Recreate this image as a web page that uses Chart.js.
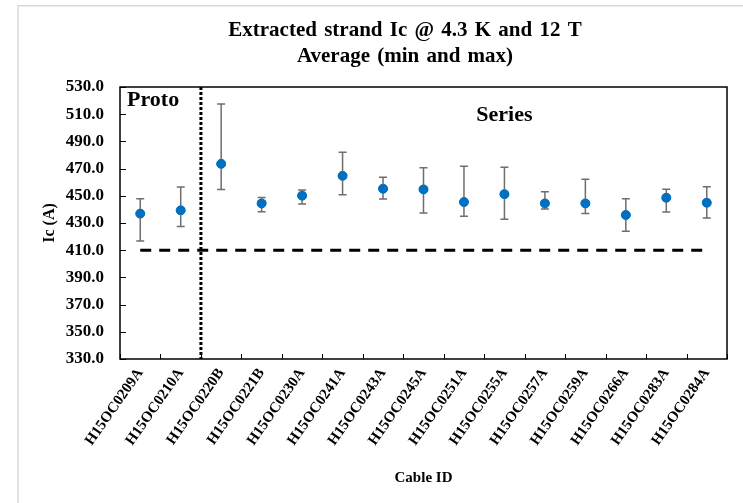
<!DOCTYPE html>
<html>
<head>
<meta charset="utf-8">
<script src="https://cdn.jsdelivr.net/npm/chart.js@4.4.1/dist/chart.umd.min.js"></script>
<style>
  html, body { margin: 0; padding: 0; background: #fff; }
  #chart { display: block; }
</style>
</head>
<body>
<canvas id="chart" width="743" height="503"></canvas>
<script>
// Cable IDs on the x axis
const cableIds = [
  'H15OC0209A', 'H15OC0210A', 'H15OC0220B', 'H15OC0221B', 'H15OC0230A',
  'H15OC0241A', 'H15OC0243A', 'H15OC0245A', 'H15OC0251A', 'H15OC0255A',
  'H15OC0257A', 'H15OC0259A', 'H15OC0266A', 'H15OC0283A', 'H15OC0284A'
];

// Average Ic (A) with min / max
const icAverage = [436.9, 439.3, 473.5, 444.4, 450.1, 464.7, 455.2, 454.7, 445.4, 451.2, 444.4, 444.4, 435.9, 448.6, 444.9];
const icMin     = [416.8, 427.4, 454.7, 438.3, 443.9, 450.8, 447.6, 437.3, 434.9, 432.7, 440.3, 436.9, 423.9, 438.1, 433.7];
const icMax     = [447.9, 456.4, 517.5, 448.8, 454.2, 482.0, 463.7, 470.6, 471.8, 471.0, 453.0, 462.2, 447.9, 454.9, 456.7];

// Specification line
const icSpec = 410;

// Y axis ticks
const yMin = 330;
const yMax = 530;
const yStep = 20;

const titleLines = ['Extracted strand Ic @ 4.3 K and 12 T', 'Average (min and max)'];

const serif = "'Liberation Serif', 'Times New Roman', serif";

// Error bars, divider, inner ticks, frame, title and annotations
const extrasPlugin = {
  id: 'extras',
  beforeDraw(chart) {
    const ctx = chart.ctx;
    ctx.save();
    ctx.strokeStyle = '#d9d9d9';
    ctx.lineWidth = 1.5;
    ctx.strokeRect(18, 5.75, 900, 700);

    // title
    ctx.fillStyle = '#000';
    ctx.font = 'bold 21px ' + serif;
    ctx.textAlign = 'center';
    ctx.textBaseline = 'middle';
    if ('wordSpacing' in ctx) ctx.wordSpacing = '2px';
    ctx.fillText(titleLines[0], 405, 31);
    ctx.fillText(titleLines[1], 405, 57);
    ctx.restore();
  },
  afterDatasetsDraw(chart) {
    const ctx = chart.ctx;
    const x = chart.scales.x;
    const y = chart.scales.y;
    const area = chart.chartArea;

    // plot frame
    ctx.save();
    ctx.strokeStyle = '#000';
    ctx.lineWidth = 1.5;
    ctx.strokeRect(area.left, area.top, area.right - area.left, area.bottom - area.top);

    // inside tick marks
    ctx.lineWidth = 1;
    ctx.beginPath();
    y.ticks.forEach(t => {
      const py = Math.round(y.getPixelForValue(t.value)) + 0.5;
      ctx.moveTo(area.left, py); ctx.lineTo(area.left + 6, py);
    });
    const half = (x.getPixelForValue(1) - x.getPixelForValue(0)) / 2;
    for (let i = 0; i <= cableIds.length; i++) {
      const px = Math.round(x.getPixelForValue(i) - half) + 0.5;
      ctx.moveTo(px, area.bottom); ctx.lineTo(px, area.bottom - 5);
    }
    ctx.stroke();
    ctx.restore();

    // dotted divider between prototype and series cables
    const divX = (x.getPixelForValue(1) + x.getPixelForValue(2)) / 2;
    ctx.save();
    ctx.strokeStyle = '#000';
    ctx.lineWidth = 3;
    ctx.setLineDash([3, 2]);
    ctx.beginPath();
    ctx.moveTo(divX, area.top);
    ctx.lineTo(divX, area.bottom);
    ctx.stroke();
    ctx.restore();

    // min / max bars
    ctx.save();
    ctx.strokeStyle = '#6e6e6e';
    ctx.lineWidth = 1.5;
    icAverage.forEach((v, i) => {
      const px = x.getPixelForValue(i);
      const top = y.getPixelForValue(icMax[i]);
      const bot = y.getPixelForValue(icMin[i]);
      ctx.beginPath();
      ctx.moveTo(px, top); ctx.lineTo(px, bot);
      ctx.moveTo(px - 4, top); ctx.lineTo(px + 4, top);
      ctx.moveTo(px - 4, bot); ctx.lineTo(px + 4, bot);
      ctx.stroke();
    });
    ctx.restore();

    // markers on top of the bars
    const meta = chart.getDatasetMeta(1);
    ctx.save();
    ctx.fillStyle = '#0070c0';
    meta.data.forEach(pt => {
      ctx.beginPath();
      ctx.arc(pt.x, pt.y, 4.5, 0, Math.PI * 2);
      ctx.fill();
    });
    ctx.restore();

    // annotations
    ctx.save();
    ctx.fillStyle = '#000';
    ctx.font = 'bold 22px ' + serif;
    ctx.textBaseline = 'alphabetic';
    ctx.textAlign = 'left';
    ctx.fillText('Proto', area.left + 7, y.getPixelForValue(516));
    ctx.textAlign = 'center';
    ctx.fillText('Series', x.getPixelForValue(9), y.getPixelForValue(505));
    ctx.restore();
  }
};

new Chart(document.getElementById('chart'), {
  type: 'line',
  data: {
    labels: cableIds,
    datasets: [
      {
        label: 'Spec',
        data: cableIds.map(() => icSpec),
        borderColor: '#000',
        borderWidth: 3,
        borderDash: [11, 8],
        pointRadius: 0,
        fill: false,
      },
      {
        label: 'Average',
        data: icAverage,
        showLine: false,
        pointRadius: 4.5,
        pointBackgroundColor: '#0070c0',
        pointBorderColor: '#0070c0',
      },
    ],
  },
  options: {
    responsive: false,
    animation: false,
    devicePixelRatio: 1,
    layout: { padding: { top: 87, right: 16, bottom: 0, left: 0 } },
    plugins: {
      legend: { display: false },
      tooltip: { enabled: false },
      title: { display: false },
    },
    scales: {
      x: {
        offset: true,
        grid: { offset: true, display: false, drawTicks: false },
        border: { display: false },
        ticks: {
          autoSkip: false,
          minRotation: 55,
          maxRotation: 55,
          padding: 6,
          color: '#000',
          font: { family: serif, size: 15, weight: 'bold' },
        },
        title: {
          display: true,
          text: 'Cable ID',
          color: '#000',
          font: { family: serif, size: 15, weight: 'bold' },
          padding: { top: 4, bottom: 16 },
        },
        afterFit(scale) { scale.height = 144; },
      },
      y: {
        min: yMin,
        max: yMax,
        grid: { display: false, drawTicks: false },
        border: { display: false },
        ticks: {
          stepSize: yStep,
          padding: 16,
          color: '#000',
          font: { family: serif, size: 17, weight: 'bold' },
          callback: v => v.toFixed(1),
        },
        title: {
          display: true,
          text: 'Ic (A)',
          color: '#000',
          font: { family: serif, size: 16, weight: 'bold' },
          padding: { top: 40, bottom: 4 },
        },
        afterFit(scale) { scale.width = 120; },
      },
    },
  },
  plugins: [extrasPlugin],
});
</script>
</body>
</html>
